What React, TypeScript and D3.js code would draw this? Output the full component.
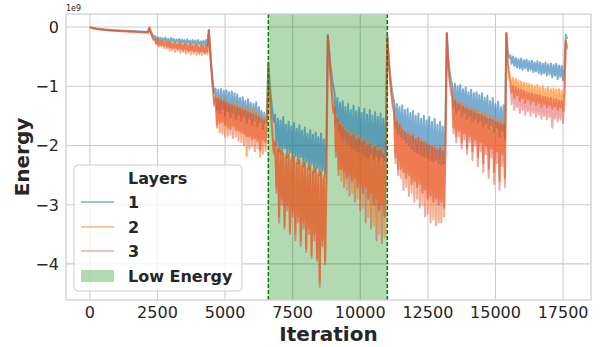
import React from 'react';
import * as d3 from 'd3';

// energy is logged every 50 iterations, and the run restarts every 2200 iterations
const iterationsPerRun = 2200;
const sampleStep = 50;

// values in units of 1e9, one inner array per restart
const layer1Runs: number[][] = [
  [0, -0.01, -0.015, -0.02, -0.022, -0.028, -0.03, -0.033, -0.035, -0.04, -0.038, -0.045, -0.043, -0.05, -0.048, -0.052, -0.05, -0.055, -0.053, -0.058, -0.056, -0.06,
   -0.058, -0.063, -0.06, -0.065, -0.062, -0.068, -0.064, -0.07, -0.066, -0.072, -0.068, -0.074, -0.07, -0.076, -0.072, -0.078, -0.074, -0.08, -0.076, -0.083, -0.078, -0.085],
  [-0.01, -0.07, -0.12, -0.16, -0.15, -0.21, -0.17, -0.22, -0.18, -0.24, -0.19, -0.23, -0.18, -0.25, -0.2, -0.26, -0.19, -0.24, -0.2, -0.27, -0.21, -0.25,
   -0.2, -0.28, -0.21, -0.26, -0.22, -0.29, -0.21, -0.27, -0.23, -0.3, -0.22, -0.28, -0.23, -0.31, -0.22, -0.29, -0.24, -0.32, -0.23, -0.3, -0.22, -0.31],
  [-0.05, -0.38, -0.7, -0.96, -1.12, -1.04, -1.4, -1.06, -1.45, -1.05, -1.38, -1.08, -1.5, -1.07, -1.42, -1.1, -1.52, -1.09, -1.45, -1.12, -1.55, -1.14,
   -1.48, -1.2, -1.58, -1.18, -1.5, -1.25, -1.62, -1.22, -1.55, -1.28, -1.65, -1.3, -1.58, -1.27, -1.68, -1.35, -1.6, -1.42, -1.72, -1.45, -1.62, -1.5],
  [-0.6, -0.95, -1.22, -1.42, -1.6, -1.48, -2.0, -1.55, -2.1, -1.58, -2.15, -1.52, -2.05, -1.65, -2.2, -1.6, -2.12, -1.68, -2.25, -1.62, -2.18, -1.72,
   -2.3, -1.66, -2.2, -1.75, -2.35, -1.7, -2.28, -1.8, -2.4, -1.74, -2.32, -1.82, -2.45, -1.78, -2.38, -1.86, -2.5, -1.8, -2.42, -1.9, -2.52, -1.85],
  [-0.13, -0.4, -0.65, -0.85, -1.0, -1.12, -1.6, -1.2, -1.75, -1.28, -1.85, -1.25, -1.9, -1.35, -1.95, -1.3, -2.0, -1.4, -2.05, -1.33, -2.08, -1.42,
   -2.1, -1.36, -2.12, -1.45, -2.15, -1.38, -2.18, -1.48, -2.2, -1.4, -2.15, -1.5, -2.22, -1.44, -2.18, -1.52, -2.25, -1.46, -2.2, -1.55, -2.25, -1.5],
  [-0.15, -0.5, -0.78, -1.0, -1.15, -1.25, -1.7, -1.3, -1.8, -1.35, -1.85, -1.32, -1.9, -1.4, -1.95, -1.38, -2.0, -1.45, -2.05, -1.42, -2.1, -1.5,
   -2.12, -1.46, -2.15, -1.55, -2.18, -1.5, -2.2, -1.58, -2.22, -1.52, -2.25, -1.6, -2.28, -1.55, -2.25, -1.65, -2.3, -1.6, -2.32, -1.68, -2.3, -1.62],
  [-0.1, -0.5, -0.72, -0.88, -0.98, -1.35, -0.96, -1.45, -1.0, -1.4, -0.98, -1.5, -1.05, -1.45, -1.02, -1.55, -1.1, -1.5, -1.06, -1.6, -1.12, -1.55,
   -1.1, -1.62, -1.15, -1.58, -1.12, -1.68, -1.2, -1.62, -1.16, -1.72, -1.25, -1.66, -1.2, -1.78, -1.3, -1.7, -1.26, -1.85, -1.35, -1.75, -1.32, -1.9],
  [-0.1, -0.4, -0.52, -0.48, -0.62, -0.5, -0.66, -0.52, -0.68, -0.54, -0.7, -0.53, -0.72, -0.56, -0.7, -0.55, -0.74, -0.58, -0.72, -0.57, -0.76, -0.6,
   -0.75, -0.58, -0.78, -0.6, -0.8, -0.62, -0.78, -0.6, -0.82, -0.63, -0.8, -0.62, -0.85, -0.64, -0.82, -0.62, -0.88, -0.65, -0.84, -0.66, -0.9, -0.68,
   -0.13, -0.2],
];

const layer2Runs: number[][] = [
  [0, -0.012, -0.018, -0.024, -0.026, -0.032, -0.034, -0.038, -0.04, -0.045, -0.043, -0.05, -0.048, -0.055, -0.053, -0.058, -0.056, -0.061, -0.059, -0.064, -0.062, -0.067,
   -0.065, -0.07, -0.067, -0.072, -0.069, -0.075, -0.071, -0.077, -0.073, -0.08, -0.075, -0.082, -0.078, -0.085, -0.08, -0.087, -0.082, -0.09, -0.084, -0.092, -0.086, -0.095],
  [-0.02, -0.09, -0.15, -0.2, -0.18, -0.27, -0.21, -0.3, -0.22, -0.33, -0.24, -0.31, -0.23, -0.36, -0.25, -0.34, -0.26, -0.39, -0.25, -0.35, -0.27, -0.4,
   -0.26, -0.37, -0.28, -0.42, -0.27, -0.38, -0.29, -0.44, -0.28, -0.39, -0.3, -0.45, -0.29, -0.4, -0.31, -0.46, -0.3, -0.41, -0.32, -0.45, -0.3, -0.42],
  [-0.06, -0.42, -0.75, -1.02, -1.3, -1.16, -1.65, -1.2, -1.78, -1.18, -1.6, -1.25, -1.86, -1.22, -1.7, -1.3, -1.82, -1.27, -1.68, -1.32, -1.85, -1.28,
   -1.75, -1.35, -1.95, -1.33, -1.8, -1.38, -2.18, -1.36, -1.85, -1.4, -2.02, -1.38, -1.88, -1.45, -2.05, -1.48, -2.19, -1.5, -1.9, -1.55, -2.1, -1.6],
  [-0.65, -1.1, -1.45, -1.75, -2.1, -1.9, -2.7, -2.0, -3.2, -2.05, -2.9, -2.1, -3.35, -2.15, -3.0, -2.1, -3.45, -2.2, -3.1, -2.15, -3.5, -2.25,
   -3.2, -2.2, -3.6, -2.3, -3.3, -2.25, -3.75, -2.35, -3.4, -2.3, -3.85, -2.4, -3.5, -2.35, -3.9, -2.45, -4.3, -2.4, -3.6, -2.5, -3.95, -2.45],
  [-0.14, -0.48, -0.8, -1.1, -1.4, -1.3, -2.1, -1.5, -2.4, -1.6, -2.6, -1.65, -2.45, -1.7, -2.75, -1.75, -2.5, -1.8, -2.8, -1.78, -2.55, -1.85,
   -2.9, -1.82, -2.65, -1.9, -3.05, -1.88, -2.7, -1.95, -3.2, -1.92, -2.8, -2.0, -3.35, -1.98, -2.9, -2.05, -3.5, -2.02, -3.0, -2.1, -3.55, -2.05],
  [-0.16, -0.55, -0.85, -1.1, -1.3, -1.4, -2.2, -1.55, -2.4, -1.62, -2.55, -1.7, -2.45, -1.75, -2.7, -1.78, -2.5, -1.82, -2.8, -1.8, -2.6, -1.88,
   -2.9, -1.85, -2.65, -1.9, -3.0, -1.92, -2.75, -1.95, -3.15, -1.98, -2.85, -2.0, -3.25, -2.02, -2.9, -2.05, -3.3, -2.02, -2.95, -2.08, -3.2, -2.05],
  [-0.1, -0.62, -0.85, -1.02, -1.15, -1.7, -1.2, -1.85, -1.25, -1.75, -1.28, -1.95, -1.3, -1.8, -1.32, -2.05, -1.35, -1.85, -1.38, -2.1, -1.36, -1.9,
   -1.4, -2.2, -1.42, -1.95, -1.45, -2.3, -1.44, -2.0, -1.48, -2.4, -1.5, -2.05, -1.52, -2.45, -1.55, -2.1, -1.56, -2.6, -1.58, -2.15, -1.6, -2.55],
  [-0.1, -0.55, -0.75, -0.85, -1.1, -0.86, -1.2, -0.88, -1.15, -0.9, -1.25, -0.92, -1.2, -0.94, -1.28, -0.95, -1.22, -0.96, -1.3, -0.98, -1.25, -1.0,
   -1.32, -0.98, -1.28, -1.02, -1.35, -1.0, -1.3, -1.04, -1.36, -1.02, -1.32, -1.05, -1.38, -1.04, -1.34, -1.06, -1.4, -1.05, -1.36, -1.08, -1.42, -1.06,
   -0.22, -0.35],
];

const layer3Runs: number[][] = [
  [0, -0.012, -0.02, -0.025, -0.028, -0.034, -0.036, -0.04, -0.042, -0.047, -0.045, -0.052, -0.05, -0.057, -0.055, -0.06, -0.058, -0.063, -0.061, -0.066, -0.064, -0.069,
   -0.067, -0.072, -0.069, -0.074, -0.071, -0.077, -0.073, -0.079, -0.075, -0.082, -0.077, -0.084, -0.08, -0.087, -0.082, -0.089, -0.084, -0.092, -0.086, -0.094, -0.088, -0.097],
  [-0.02, -0.1, -0.16, -0.22, -0.2, -0.29, -0.22, -0.33, -0.24, -0.31, -0.25, -0.36, -0.26, -0.33, -0.27, -0.4, -0.27, -0.36, -0.28, -0.42, -0.29, -0.37,
   -0.28, -0.43, -0.3, -0.39, -0.29, -0.45, -0.31, -0.4, -0.3, -0.46, -0.32, -0.41, -0.31, -0.47, -0.33, -0.43, -0.32, -0.47, -0.33, -0.44, -0.31, -0.46],
  [-0.06, -0.44, -0.78, -1.05, -1.34, -1.2, -1.7, -1.22, -1.62, -1.24, -1.8, -1.26, -1.66, -1.28, -1.84, -1.3, -1.72, -1.32, -1.88, -1.34, -1.74, -1.36,
   -1.92, -1.38, -1.78, -1.4, -2.0, -1.42, -1.85, -1.44, -2.06, -1.46, -1.9, -1.48, -2.1, -1.5, -1.92, -1.52, -2.08, -1.55, -2.14, -1.58, -1.95, -1.62],
  [-0.66, -1.12, -1.5, -1.8, -2.15, -1.95, -2.8, -2.05, -3.3, -2.1, -3.0, -2.15, -3.4, -2.2, -3.1, -2.15, -3.5, -2.25, -3.2, -2.2, -3.6, -2.3,
   -3.3, -2.25, -3.7, -2.35, -3.4, -2.3, -3.8, -2.4, -3.5, -2.35, -3.9, -2.45, -3.6, -2.4, -3.95, -2.5, -4.39, -2.45, -3.7, -2.55, -4.0, -2.5],
  [-0.15, -0.5, -0.85, -1.15, -1.45, -1.35, -2.2, -1.55, -2.5, -1.65, -2.4, -1.7, -2.7, -1.75, -2.55, -1.8, -2.85, -1.85, -2.6, -1.82, -2.95, -1.9,
   -2.7, -1.88, -3.1, -1.95, -2.8, -1.92, -3.3, -2.0, -2.9, -1.98, -3.4, -2.05, -3.0, -2.02, -3.6, -2.1, -3.1, -2.08, -3.65, -2.15, -3.2, -2.1],
  [-0.17, -0.58, -0.9, -1.15, -1.35, -1.45, -2.3, -1.6, -2.5, -1.66, -2.4, -1.74, -2.75, -1.78, -2.55, -1.82, -2.85, -1.85, -2.65, -1.84, -2.95, -1.9,
   -2.7, -1.88, -3.05, -1.94, -2.8, -1.95, -3.2, -1.98, -2.9, -2.0, -3.3, -2.02, -2.95, -2.05, -3.35, -2.08, -3.0, -2.05, -3.3, -2.1, -3.05, -2.08],
  [-0.11, -0.65, -0.9, -1.08, -1.2, -1.8, -1.25, -1.95, -1.3, -1.85, -1.32, -2.05, -1.35, -1.9, -1.38, -2.15, -1.4, -1.95, -1.42, -2.25, -1.44, -2.0,
   -1.46, -2.35, -1.48, -2.1, -1.5, -2.45, -1.52, -2.15, -1.55, -2.55, -1.56, -2.2, -1.58, -2.65, -1.6, -2.3, -1.62, -2.75, -1.64, -2.35, -1.66, -2.7],
  [-0.11, -0.6, -0.85, -0.95, -1.3, -1.0, -1.4, -1.02, -1.35, -1.05, -1.45, -1.06, -1.4, -1.08, -1.48, -1.1, -1.42, -1.12, -1.5, -1.12, -1.45, -1.14,
   -1.52, -1.15, -1.48, -1.16, -1.55, -1.18, -1.5, -1.18, -1.56, -1.2, -1.52, -1.2, -1.7, -1.22, -1.55, -1.22, -1.6, -1.24, -1.56, -1.25, -1.62, -1.25,
   -0.24, -0.38],
];

const layerNames = ['1', '2', '3'];
const layerColors = ['#1f77b4', '#ff7f0e', '#d62728'];
const layerAlpha = [0.6, 0.6, 0.4];

const lowEnergy = [6600, 11000];

const xTicks = [0, 2500, 5000, 7500, 10000, 12500, 15000, 17500];
const yTicks = [0, -1, -2, -3, -4];

const W = 600;
const H = 347;
const margin = { top: 14, right: 9, bottom: 47, left: 66 };
const font = '"DejaVu Sans", sans-serif';
const ink = '#262626';

function toPoints(runs: number[][]): [number, number][] {
  return runs.flatMap((run, r) =>
    run.map((v, k) => [r * iterationsPerRun + k * sampleStep, v] as [number, number])
  );
}

export default function App() {
  const series = [layer1Runs, layer2Runs, layer3Runs].map(toPoints);
  const all = series.flat();

  // matplotlib-style 5% padding on both axes
  const [x0, x1] = d3.extent(all, (d) => d[0]) as [number, number];
  const [y0, y1] = d3.extent(all, (d) => d[1]) as [number, number];
  const px = (x1 - x0) * 0.05;
  const py = (y1 - y0) * 0.05;

  const x = d3.scaleLinear()
    .domain([x0 - px, x1 + px])
    .range([margin.left, W - margin.right]);
  const y = d3.scaleLinear()
    .domain([y0 - py, y1 + py])
    .range([H - margin.bottom, margin.top]);

  const line = d3.line<[number, number]>()
    .x((d) => x(d[0]))
    .y((d) => y(d[1]));

  const left = margin.left;
  const right = W - margin.right;
  const top = margin.top;
  const bottom = H - margin.bottom;

  const fmt = (v: number) => String(v).replace('-', '\u2212');

  // legend
  const lg = { x: 74, y: 165, w: 168, h: 126 };
  const rowY = [202, 227, 251];

  return (
    <svg width={W} height={H} style={{ position: 'absolute', left: 0, top: 0, background: '#fff' }}
      fontFamily={font}>
      {/* grid */}
      {xTicks.map((t) => (
        <line key={'gx' + t} x1={x(t)} x2={x(t)} y1={top} y2={bottom} stroke="#cccccc" strokeWidth={1.1} />
      ))}
      {yTicks.map((t) => (
        <line key={'gy' + t} x1={left} x2={right} y1={y(t)} y2={y(t)} stroke="#cccccc" strokeWidth={1.1} />
      ))}

      {/* low energy span */}
      <rect x={x(lowEnergy[0])} y={top} width={x(lowEnergy[1]) - x(lowEnergy[0])} height={bottom - top}
        fill="green" fillOpacity={0.3} />

      {/* series */}
      {series.map((pts, i) => (
        <path key={'s' + i} d={line(pts) ?? ''} fill="none" stroke={layerColors[i]}
          strokeOpacity={layerAlpha[i]} strokeWidth={2} strokeLinejoin="round" />
      ))}

      {lowEnergy.map((v) => (
        <line key={'dl' + v} x1={x(v)} x2={x(v)} y1={top} y2={bottom} stroke="green"
          strokeWidth={1.5} strokeDasharray="4,2" />
      ))}

      {/* frame */}
      <rect x={left} y={top} width={right - left} height={bottom - top} fill="none" stroke="#cccccc" strokeWidth={1.2} />

      {/* tick labels */}
      {xTicks.map((t) => (
        <text key={'tx' + t} x={x(t)} y={bottom + 18} textAnchor="middle" fontSize={16} fill={ink}>
          {t}
        </text>
      ))}
      {yTicks.map((t) => (
        <text key={'ty' + t} x={left - 7} y={y(t) + 6} textAnchor="end" fontSize={16} fill={ink}>
          {fmt(t)}
        </text>
      ))}
      <text x={left} y={11} fontSize={8} fill={ink}>1e9</text>

      {/* axis titles */}
      <text x={(left + right) / 2} y={340.5} textAnchor="middle" fontSize={20} fontWeight="bold" fill={ink}>
        Iteration
      </text>
      <text transform={`translate(28.5,${(top + bottom) / 2}) rotate(-90)`} textAnchor="middle"
        fontSize={20} fontWeight="bold" fill={ink}>
        Energy
      </text>

      {/* legend */}
      <rect x={lg.x} y={lg.y} width={lg.w} height={lg.h} rx={4} fill="#fff" fillOpacity={0.8}
        stroke="#cccccc" strokeWidth={1} />
      <text x={128} y={184} fontSize={16} fontWeight="bold" fill={ink}>Layers</text>
      {layerNames.map((name, i) => (
        <g key={'lg' + name}>
          <line x1={81} x2={114} y1={rowY[i]} y2={rowY[i]} stroke={layerColors[i]}
            strokeOpacity={layerAlpha[i]} strokeWidth={1.5} />
          <text x={128} y={rowY[i] + 6} fontSize={16} fontWeight="bold" fill={ink}>{name}</text>
        </g>
      ))}
      <rect x={81} y={270} width={33} height={12} fill="green" fillOpacity={0.3} />
      <text x={128} y={282} fontSize={16} fontWeight="bold" fill={ink}>Low Energy</text>
    </svg>
  );
}
